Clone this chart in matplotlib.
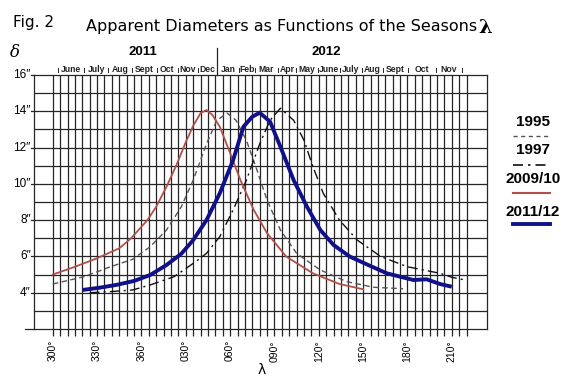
import matplotlib
matplotlib.use('Agg')
import matplotlib.pyplot as plt
from matplotlib.lines import Line2D

# ---------------- data (lambda in unwrapped degrees, 300..580) ----------------
red_lambda = [300, 315, 330, 345, 353, 364, 370, 377, 384, 390, 395, 400, 404, 408, 413, 420, 427, 436, 445, 458, 476, 494, 510]
red_delta = [5.0, 5.43, 5.9, 6.45, 7.0, 8.0, 8.74, 9.85, 11.1, 12.3, 13.2, 13.9, 14.07, 13.8, 13.15, 11.7, 10.2, 8.56, 7.28, 5.99, 5.07, 4.48, 4.19]

grey_lambda = [300, 321, 339, 354, 366, 377, 387, 395, 404, 411, 418, 424, 431, 438, 445, 454, 465, 481, 499, 517, 537]
grey_delta = [4.48, 4.88, 5.43, 5.84, 6.54, 7.46, 8.74, 10.2, 12.2, 13.5, 13.9, 13.5, 12.4, 10.8, 9.1, 7.46, 6.17, 5.25, 4.61, 4.3, 4.22]

dd_lambda = [325, 339, 354, 366, 382, 393, 399, 404, 413, 422, 431, 440, 447, 454, 463, 470, 476, 483, 494, 506, 522, 540, 562, 570, 579]
dd_delta = [4.0, 4.06, 4.15, 4.43, 4.88, 5.5, 5.85, 6.17, 7.09, 8.56, 10.2, 12.2, 13.5, 14.17, 13.5, 12.4, 10.95, 9.48, 8.0, 6.9, 5.99, 5.43, 5.07, 4.85, 4.7]

blue_lambda = [320, 332, 343, 355, 366, 377, 387, 395, 404, 413, 422, 429, 435, 440, 447, 454, 463, 472, 481, 490, 501, 512, 526, 544, 553, 562, 570]
blue_delta = [4.15, 4.28, 4.43, 4.65, 4.98, 5.53, 6.15, 6.9, 8.0, 9.48, 11.3, 13.15, 13.7, 13.92, 13.43, 12.05, 10.2, 8.74, 7.46, 6.63, 5.99, 5.58, 5.07, 4.7, 4.74, 4.48, 4.33]

series_names = ['1995', '1997', '2009/10', '2011/12']

month_labels = ['June', 'July', 'Aug', 'Sept', 'Oct', 'Nov', 'Dec',
                'Jan', 'Feb', 'Mar', 'Apr', 'May', 'June', 'July', 'Aug', 'Sept', 'Oct', 'Nov']
month_bounds = [303.8, 321.4, 337.6, 353.9, 370.4, 384.6, 398.5, 411.0, 426.0, 436.9,
                452.2, 464.6, 479.3, 494.4, 509.1, 523.1, 540.6, 559.3, 576.7]
year_labels = ['2011', '2012']

xtick_values = [300, 330, 360, 390, 420, 450, 480, 510, 540, 570]
xtick_labels = ['300°', '330°', '360°', '030°', '060°', '090°', '120°', '150°', '180°', '210°']
ytick_values = [4, 6, 8, 10, 12, 14, 16]
ytick_labels = ['4″', '6″', '8″', '10″', '12″', '14″', '16″']

# ---------------- figure ----------------
W, H = 577, 382
fig = plt.figure(figsize=(W / 100, H / 100), dpi=100)
L, R, T, B = 33.7, 486.7, 75.0, 329.0
ax = fig.add_axes([L / W, 1 - B / H, (R - L) / W, (B - T) / H])
x0, x1 = 287.1, 593.6
ax.set_xlim(x0, x1)
ax.set_ylim(2, 16)

gc = '#262626'
glw = 0.9
for v in range(3, 16):
    ax.axhline(v, color=gc, lw=glw, zorder=1)
for v in range(300, 581, 5):
    ax.axvline(v, color=gc, lw=glw, zorder=1)
for s in ax.spines.values():
    s.set_color(gc)
    s.set_linewidth(glw)

# ticks
ax.set_xticks(xtick_values)
ax.set_xticklabels(xtick_labels, rotation=90, fontsize=7.5, family='Liberation Sans')
ax.set_xticks([v for v in range(300, 581, 5) if v not in xtick_values], minor=True)
ax.tick_params(axis='x', which='both', length=5, width=glw, color=gc, pad=3)
ax.set_yticks([])

pxy = 18.14  # px per unit delta
pxx = (R - L) / (x1 - x0)
for v, lab in zip(ytick_values, ytick_labels):
    ax.plot([x0 - 3 / pxx, x0], [v, v], color=gc, lw=glw, clip_on=False)
    ax.text(x0 - 3 / pxx, v, lab, ha='right', va='center', fontsize=8.5,
            family='Liberation Sans')
ax.plot([x0 - 9 / pxx, x0], [2, 2], color=gc, lw=glw, clip_on=False)

# month separators and labels
for b in month_bounds:
    if abs(b - 411.0) < 0.01:
        ax.plot([b, b], [16, 16 + 27 / pxy], color=gc, lw=glw, clip_on=False)
    else:
        ax.plot([b, b], [16 + 2.7 / pxy, 16 + 7.3 / pxy], color=gc, lw=0.7, clip_on=False)
for i, lab in enumerate(month_labels):
    xm = (month_bounds[i] + month_bounds[i + 1]) / 2
    ax.text(xm, 16 + 5.7 / pxy, lab, ha='center', va='center', fontsize=6.2,
            fontweight='bold', family='Liberation Sans', color='#222222')
ax.text(361, 16 + 23 / pxy, year_labels[0], ha='center', va='center', fontsize=9.5,
        fontweight='bold', family='Liberation Sans')
ax.text(485, 16 + 23 / pxy, year_labels[1], ha='center', va='center', fontsize=9.5,
        fontweight='bold', family='Liberation Sans')
ax.text(x0 - 18.7 / pxx, 16 + 22 / pxy, 'δ', ha='center', va='center', fontsize=12,
        family='DejaVu Serif', style='italic')

# curves
ax.plot(grey_lambda, grey_delta, color='#555555', lw=1.0, ls=(0, (4, 2.5)), zorder=3)
ax.plot(dd_lambda, dd_delta, color='#111111', lw=1.0, ls=(0, (7, 3, 1.5, 3)), zorder=3)
ax.plot(red_lambda, red_delta, color='#b0504a', lw=1.3, zorder=4)
ax.plot(blue_lambda, blue_delta, color='#10108a', lw=2.8, zorder=5,
        solid_capstyle='butt')

# titles
fig.text(13 / W, 1 - 23 / H, 'Fig. 2', fontsize=11, ha='left', va='center',
         family='DejaVu Sans')
fig.text(86 / W, 1 - 27 / H, 'Apparent Diameters as Functions of the Seasons',
         fontsize=11.5, ha='left', va='center', family='DejaVu Sans')
fig.text(492 / W, 1 - 28 / H, 'λ', fontsize=14, ha='right', va='center',
         family='DejaVu Serif', fontweight='bold')
fig.text(262 / W, 1 - 370 / H, 'λ', fontsize=10, ha='center', va='center',
         family='DejaVu Sans')

# legend
leg_y_text = [121.7, 150.0, 179.3, 211.7]
leg_y_line = [136.0, 165.0, 192.7, 224.3]
styles = [dict(color='#555555', lw=1.0, ls=(0, (3, 2.5))),
          dict(color='#111111', lw=1.2, ls=(0, (6, 3, 1.5, 3))),
          dict(color='#b0504a', lw=1.5, ls='-'),
          dict(color='#10108a', lw=2.8, ls='-')]
for name, yt, yl, st in zip(series_names, leg_y_text, leg_y_line, styles):
    fig.text(533 / W, 1 - yt / H, name, ha='center', va='center', fontsize=11,
             fontweight='bold', family='Liberation Sans')
    fig.add_artist(Line2D([512.7 / W, 550 / W], [1 - yl / H, 1 - yl / H],
                          transform=fig.transFigure, **st))

fig.savefig('out.png', dpi=100)
